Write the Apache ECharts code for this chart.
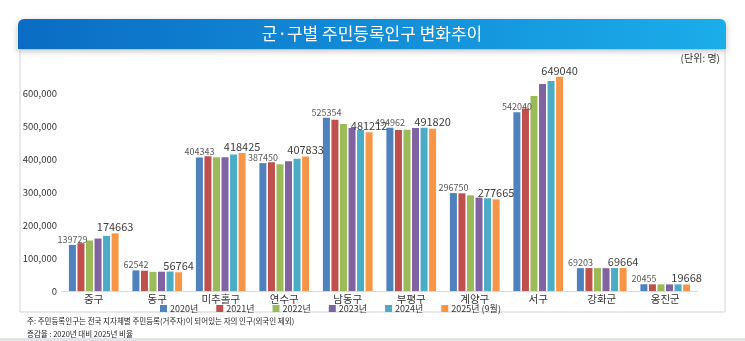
<!DOCTYPE html>
<html><head><meta charset="utf-8">
<script src="https://cdn.jsdelivr.net/npm/echarts@6/dist/echarts.min.js"></script>
<style>html,body{margin:0;padding:0;background:#fff}#c{width:745px;height:341px}</style>
</head><body><div id="c"></div>
<script>
const categories = ['중구','동구','미추홀구','연수구','남동구','부평구','계양구','서구','강화군','옹진군'];
const seriesNames = ['2020년','2021년','2022년','2023년','2024년','2025년 (9월)'];
const y2020 = [139729, 62542, 404343, 387450, 525354, 494962, 296750, 542040, 69203, 20455];
const y2021 = [145000, 61500, 408000, 390000, 519000, 488000, 296000, 553000, 69500, 20300];
const y2022 = [153000, 58000, 405000, 384000, 506000, 489000, 290000, 591000, 69400, 20100];
const y2023 = [159000, 58500, 405000, 393000, 494000, 494000, 283000, 627000, 69300, 20000];
const y2024 = [167000, 59000, 414000, 401000, 488000, 494500, 281000, 636000, 69600, 20200];
const y2025 = [174663, 56764, 418425, 407833, 481212, 491820, 277665, 649040, 69664, 19668];
const yTicks = [0, 100000, 200000, 300000, 400000, 500000, 600000];
const colors = ['#4F81BD','#C0504D','#9BBB59','#8064A2','#4BACC6','#F79646'];
const FONT = "'Noto Sans CJK KR', 'Noto Sans', sans-serif";
const allData = [y2020, y2021, y2022, y2023, y2024, y2025];

const chart = echarts.init(document.getElementById('c'));
const series = allData.map((d, i) => ({
  name: seriesNames[i],
  type: 'bar',
  data: d,
  barWidth: 7,
  barGap: '22%',
  itemStyle: { color: colors[i] },
  label: {
    show: i === 0 || i === 5,
    position: 'top',
    distance: 1,
    fontFamily: FONT,
    fontSize: i === 0 ? 9 : 11,
    color: i === 0 ? '#595959' : '#404040'
  }
}));
chart.setOption({
  animation: false,
  textStyle: { fontFamily: FONT },
  grid: { left: 62, right: 48, top: 60, bottom: 50 },
  legend: {
    data: seriesNames,
    left: 155, top: 299,
    icon: 'rect', itemWidth: 7, itemHeight: 7, itemGap: 18,
    textStyle: { fontFamily: FONT, fontSize: 9, color: '#333', padding: [0,0,0,-2] }
  },
  xAxis: {
    type: 'category', data: categories,
    axisLine: { lineStyle: { color: '#d9d9d9' } },
    axisTick: { show: false },
    axisLabel: { fontFamily: FONT, fontSize: 10.5, color: '#333', margin: 3 }
  },
  yAxis: {
    type: 'value', min: 0, max: 700000, interval: 100000,
    splitLine: { show: false },
    axisLine: { show: false },
    axisTick: { show: false },
    axisLabel: {
      fontFamily: FONT, fontSize: 9.5, color: '#333', margin: 5,
      formatter: v => yTicks.indexOf(v) >= 0 ? v.toLocaleString('en-US') : ''
    }
  },
  graphic: [
    { type: 'rect', z: -1, shape: { x: 20, y: 49, width: 705, height: 263 },
      style: { fill: 'none', stroke: '#cfd3d8', lineWidth: 1 } },
    { type: 'rect', shape: { x: 18, y: 19, width: 708, height: 30, r: [6, 6, 0, 0] },
      style: {
        fill: new echarts.graphic.LinearGradient(0, 0, 1, 0, [
          { offset: 0, color: '#0a6cc4' }, { offset: 1, color: '#1badea' }
        ]),
        shadowBlur: 6, shadowColor: 'rgba(0,0,0,0.25)', shadowOffsetY: 2
      } },
    { type: 'text', x: 372, y: 34, style: {
        text: '군·구별 주민등록인구 변화추이', fill: '#fff', font: "17px 'Noto Sans CJK KR'",
        textAlign: 'center', textVerticalAlign: 'middle' } },
    { type: 'text', x: 720, y: 58, style: {
        text: '(단위: 명)', fill: '#333', font: "10px 'Noto Sans CJK KR'",
        textAlign: 'right', textVerticalAlign: 'middle' } },
    { type: 'text', x: 27, y: 321, style: {
        text: '주: 주민등록인구는 전국 지자체별 주민등록(거주자)이 되어있는 자의 인구(외국인 제외)', fill: '#222',
        font: "7.5px 'Noto Sans CJK KR'", textVerticalAlign: 'middle' } },
    { type: 'text', x: 27, y: 334, style: {
        text: '증감율 : 2020년 대비 2025년 비율', fill: '#222',
        font: "7.5px 'Noto Sans CJK KR'", textVerticalAlign: 'middle' } },
    { type: 'rect', shape: { x: 0, y: 338, width: 745, height: 3 }, style: { fill: '#dfe4ea' } }
  ],
  series: series
});
</script>
</body></html>
